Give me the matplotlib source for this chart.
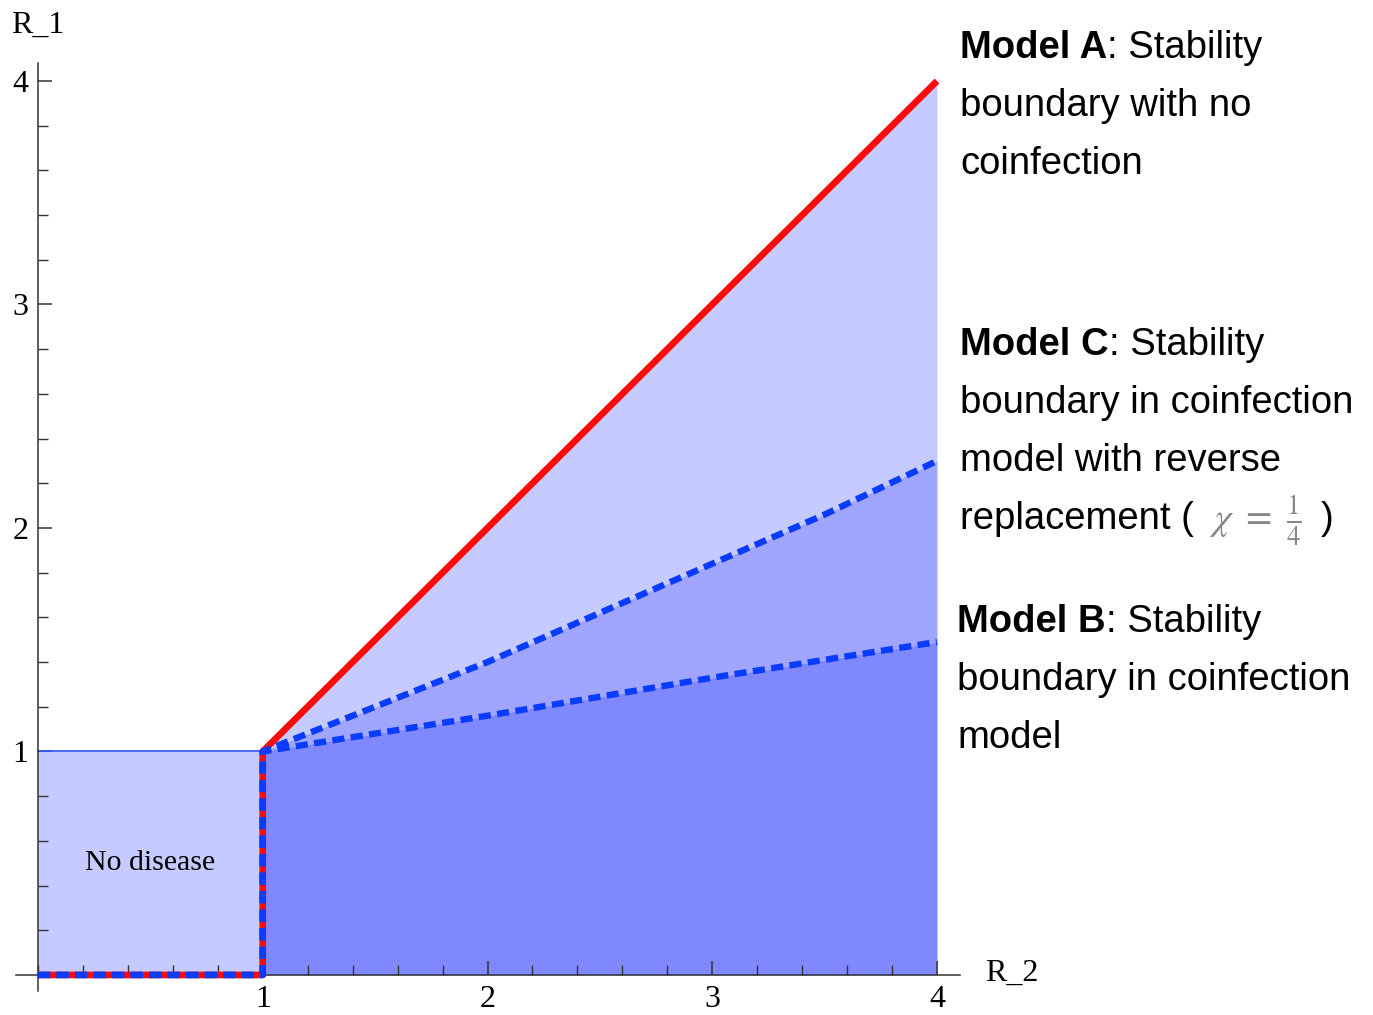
import matplotlib
matplotlib.use('Agg')
import matplotlib.pyplot as plt
from matplotlib.ticker import MultipleLocator

# boundary curves (R_2 on x, R_1 on y)
x_curve = [1, 1.5, 2, 2.5, 3, 3.5, 4]
y_model_a = [1, 1.5, 2, 2.5, 3, 3.5, 4]
y_model_c = [1, 1.2, 1.40, 1.62, 1.84, 2.06, 2.30]
y_model_b = [1, 1.08, 1.16, 1.245, 1.33, 1.41, 1.49]
box_x = [0, 1]
box_y = [0, 1]

LIGHT, MID, DARK = '#c5caff', '#a0a6ff', '#7f88ff'
RED, BLUE = '#ff0a0a', '#0a3cff'
W, H = 1373, 1015
SERIF = ['Liberation Serif', 'DejaVu Serif']
SANS = ['Liberation Sans', 'DejaVu Sans']

fig = plt.figure(figsize=(W / 100, H / 100), dpi=100)
# axes placed so that data (0,0) ~ px(38,975) and (4,4) ~ px(937,81)
ax = fig.add_axes([15.5 / W, 1 - 990.6 / H, (959.5 - 15.5) / W, (990.6 - 63.1) / H])
ax.set_xlim(-0.1, 4.1)
ax.set_ylim(-0.07, 4.08)

# filled regions
ax.fill_between(box_x, box_y[0], box_y[1], color=LIGHT, lw=0)
ax.fill_between(x_curve, y_model_c, y_model_a, color=LIGHT, lw=0)
ax.fill_between(x_curve, y_model_b, y_model_c, color=MID, lw=0)
ax.fill_between(x_curve, 0, y_model_b, color=DARK, lw=0)
ax.plot(box_x, [box_y[1], box_y[1]], color='#3355ff', lw=1.2, zorder=2)

# boundaries: path along the no-disease box then up the curve
px = [0, 1] + x_curve
ax.plot(px, [0, 0] + y_model_a, color=RED, lw=4.8, solid_capstyle='butt', zorder=3)
for yc in (y_model_c, y_model_b):
    ax.plot(px, [0, 0] + yc, color=BLUE, lw=4.6, dashes=(1.9, 1.0),
            dash_capstyle='butt', zorder=4)

# Mathematica-like axes through the origin
for s in ('top', 'right'):
    ax.spines[s].set_visible(False)
ax.spines['left'].set_position(('data', 0))
ax.spines['bottom'].set_position(('data', 0))
for s in ('left', 'bottom'):
    ax.spines[s].set_color('#333333')
    ax.spines[s].set_linewidth(1.1)
    ax.spines[s].set_zorder(2.5)
ax.set_xticks([1, 2, 3, 4])
ax.set_yticks([1, 2, 3, 4])
ax.xaxis.set_minor_locator(MultipleLocator(0.2))
ax.yaxis.set_minor_locator(MultipleLocator(0.2))
ax.tick_params(which='major', direction='in', length=10, width=1.1, color='#333333',
               labelsize=23, pad=7)
ax.tick_params(which='minor', direction='in', length=7, width=1.0, color='#333333')
for lab in ax.get_xticklabels() + ax.get_yticklabels():
    lab.set_family(SERIF)

ax.text(0.5, 0.5, 'No disease', family=SERIF, fontsize=21.5, ha='center', va='center')
fig.text(38 / W, 1 - 25 / H, 'R_1', family=SERIF, fontsize=23, ha='center', va='center')
fig.text(1012 / W, 1 - 973 / H, 'R_2', family=SERIF, fontsize=23, ha='center', va='center')

# annotations on the right
FS = 27.5
blocks = [
    (960, 48, 'Model A', ['Stability', 'boundary with no', 'coinfection']),
    (960, 345, 'Model C', ['Stability', 'boundary in coinfection', 'model with reverse', None]),
    (957, 622, 'Model B', ['Stability', 'boundary in coinfection', 'model']),
]
fig.canvas.draw()
r = fig.canvas.get_renderer()
for x0, y0, bold, lines in blocks:
    t = fig.text(x0 / W, 1 - y0 / H, bold, family=SANS, fontsize=FS, weight='bold',
                 va='center', ha='left')
    x1 = t.get_window_extent(r).x1
    fig.text(x1 / W, 1 - y0 / H, ': ' + lines[0], family=SANS, fontsize=FS,
             va='center', ha='left')
    for i, line in enumerate(lines[1:], start=1):
        y = 1 - (y0 + 58 * i) / H
        if line is None:
            t2 = fig.text(x0 / W, y, 'replacement ( ', family=SANS, fontsize=FS,
                          va='center', ha='left')
            x2 = t2.get_window_extent(r).x1
            t3 = fig.text(x2 / W + 0.003, y - 0.002, r'$\chi\ =\ \frac{1}{4}$', fontsize=FS,
                          color='#888888', va='center', ha='left',
                          math_fontfamily='stix')
            x3 = t3.get_window_extent(r).x1
            fig.text(x3 / W + 0.014, y, ')', family=SANS, fontsize=FS,
                     va='center', ha='left')
        else:
            fig.text(x0 / W, y, line, family=SANS, fontsize=FS, va='center', ha='left')

fig.savefig('out.png', dpi=100)
